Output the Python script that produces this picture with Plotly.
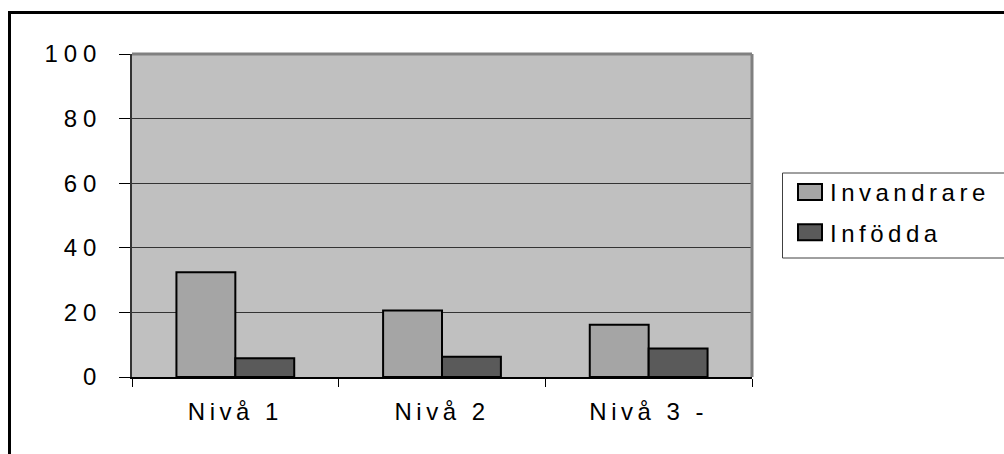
import plotly.graph_objects as go

# Data
categories = ["Nivå 1", "Nivå 2", "Nivå 3 -"]
invandrare = [32.4, 20.6, 16.2]
infodda = [5.8, 6.3, 8.8]
y_ticks = [0, 20, 40, 60, 80, 100]

FONT = "Arial, 'Liberation Sans', sans-serif"
FS = 24

fig = go.Figure()
fig.add_trace(go.Bar(
    x=categories, y=invandrare, name="Invandrare", legendgroup="a",
    marker=dict(color="#a5a5a5", line=dict(color="black", width=2)),
))
fig.add_trace(go.Bar(
    x=categories, y=infodda, name="Infödda", legendgroup="b",
    marker=dict(color="#5a5a5a", line=dict(color="black", width=2)),
))

W, H = 1004, 454
L, R, T, B = 132, 252, 54, 77
pw, ph = W - L - R, H - T - B


def px_x(x):
    return (x - L) / pw


def px_y(y):
    return (H - B - y) / ph


shapes = [
    # outer chart frame
    dict(type="rect", xref="paper", yref="paper",
         x0=px_x(9.5), x1=px_x(1012), y0=px_y(462), y1=px_y(12.5),
         line=dict(color="black", width=3), fillcolor="rgba(0,0,0,0)"),
    # plot area border (top and right)
    dict(type="line", xref="paper", yref="paper", x0=0, x1=1, y0=1, y1=1,
         line=dict(color="#808080", width=3)),
    dict(type="line", xref="paper", yref="paper", x0=1, x1=1, y0=0, y1=1,
         line=dict(color="#808080", width=3)),
    # legend box
    dict(type="rect", xref="paper", yref="paper",
         x0=px_x(782.5), x1=px_x(1010), y0=px_y(258), y1=px_y(173),
         line=dict(color="#404040", width=1), fillcolor="white"),
]

fig.update_layout(
    width=W, height=H,
    margin=dict(l=L, r=R, t=T, b=B),
    paper_bgcolor="white",
    plot_bgcolor="#c0c0c0",
    font=dict(family=FONT, size=FS, color="black"),
    barmode="group",
    bargap=0.43,
    bargroupgap=0,
    showlegend=True,
    legend=dict(
        x=px_x(790), y=px_y(170), xanchor="left", yanchor="top",
        traceorder="grouped", tracegroupgap=6,
        bgcolor="rgba(0,0,0,0)", borderwidth=0,
        font=dict(family=FONT, size=FS, color="black"),
    ),
    shapes=shapes,
    xaxis=dict(
        type="category", categoryorder="array", categoryarray=categories,
        tickson="boundaries", ticks="outside", ticklen=8, tickwidth=1,
        tickcolor="black", showline=True, linecolor="black", linewidth=1.5,
        showgrid=False, ticklabelstandoff=12,
        tickfont=dict(family=FONT, size=FS),
    ),
    yaxis=dict(
        range=[0, 100], tickvals=y_ticks, ticks="outside", ticklen=11,
        tickwidth=1, tickcolor="black", showline=True, linecolor="#333333",
        linewidth=1.5, showgrid=True, gridcolor="#333333", gridwidth=1,
        zeroline=False, ticklabelstandoff=12,
        tickfont=dict(family=FONT, size=FS),
    ),
)

# Wide tracking on all labels, unclipped legend text and larger swatches
post = """
var st = document.createElement('style');
st.textContent = '.xtick text, .legendtext { letter-spacing: 4.5px; }' +
  '.ytick text { letter-spacing: 6px; }' +
  '.legend .scrollbox, .legend { clip-path: none !important; }';
document.head.appendChild(st);
var gd = document.getElementById('{plot_id}');
function bigSwatches() {
  gd.querySelectorAll('.legendpoints path').forEach(function (p) {
    p.setAttribute('d', 'M12,8H-12V-8H12Z');
  });
  gd.querySelectorAll('.legend [clip-path]').forEach(function (n) {
    n.removeAttribute('clip-path');
  });
}
bigSwatches();
gd.on('plotly_afterplot', bigSwatches);
"""

fig.write_html("out.html", post_script=post)
